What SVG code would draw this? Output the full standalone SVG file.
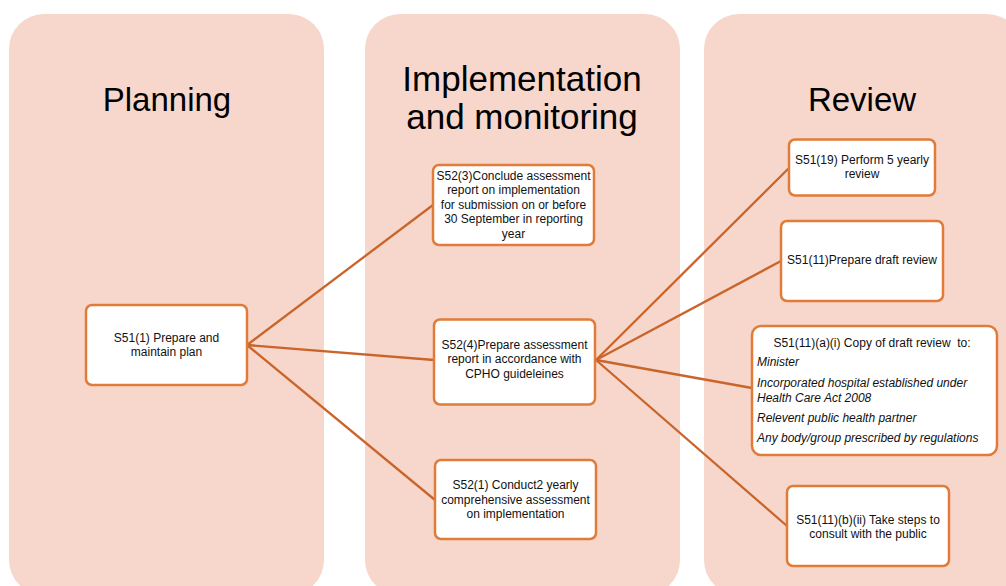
<svg xmlns="http://www.w3.org/2000/svg" width="1006" height="586" viewBox="0 0 1006 586">
<style>
.panel{fill:#F7D7CC;}
.title{font-family:"Liberation Sans",Arial,sans-serif;fill:#000;text-anchor:middle;}
.box{fill:#fff;stroke:#E07B39;stroke-width:2.5;}
.t{font-family:"Liberation Sans",Arial,sans-serif;font-size:12px;fill:#111;text-anchor:middle;}
.it{font-family:"Liberation Sans",Arial,sans-serif;font-size:12px;fill:#111;font-style:italic;}
.conn line{stroke:#C9652A;stroke-width:2.3;}
</style>
<rect width="1006" height="586" fill="#fff"/>
<g id="panel-planning">
<rect class="panel" x="9" y="14" width="315" height="581" rx="35"/>
<text class="title" x="167" y="111" font-size="33">Planning</text>
</g>
<g id="panel-implementation">
<rect class="panel" x="365" y="14" width="315" height="581" rx="35"/>
<text class="title" x="522" y="90.5" font-size="35">Implementation</text>
<text class="title" x="522" y="128.5" font-size="35">and monitoring</text>
</g>
<g id="panel-review">
<rect class="panel" x="704" y="14" width="318" height="581" rx="35"/>
<text class="title" x="862" y="111" font-size="33">Review</text>
</g>
<g id="connectors" class="conn">
<line x1="247" y1="345" x2="433" y2="205"/>
<line x1="247" y1="345" x2="434" y2="360"/>
<line x1="247" y1="345" x2="435" y2="500"/>
<line x1="596" y1="360" x2="789" y2="168"/>
<line x1="596" y1="360" x2="781" y2="261"/>
<line x1="596" y1="360" x2="752" y2="388"/>
<line x1="596" y1="360" x2="787" y2="526"/>
</g>
<g id="n1">
<rect class="box" x="86" y="305" width="161" height="80" rx="6"/>
<text class="t" x="166.5" y="342">S51(1) Prepare and</text>
<text class="t" x="166.5" y="356">maintain plan</text>
</g>
<g id="n2">
<rect class="box" x="433" y="165" width="161" height="80" rx="6"/>
<text class="t" x="513.5" y="180">S52(3)Conclude assessment</text>
<text class="t" x="513.5" y="194">report on implementation</text>
<text class="t" x="513.5" y="208.5">for submission on or before</text>
<text class="t" x="513.5" y="223">30 September in reporting</text>
<text class="t" x="513.5" y="237.5">year</text>
</g>
<g id="n3">
<rect class="box" x="434" y="319.5" width="161" height="85" rx="6"/>
<text class="t" x="514.5" y="348.5">S52(4)Prepare assessment</text>
<text class="t" x="514.5" y="363">report in accordance with</text>
<text class="t" x="514.5" y="377.5">CPHO guideleines</text>
</g>
<g id="n4">
<rect class="box" x="435" y="460" width="161" height="79" rx="6"/>
<text class="t" x="515.5" y="489">S52(1) Conduct2 yearly</text>
<text class="t" x="515.5" y="503.5">comprehensive assessment</text>
<text class="t" x="515.5" y="517.5">on implementation</text>
</g>
<g id="n5">
<rect class="box" x="789" y="139.5" width="146" height="56" rx="6"/>
<text class="t" x="862" y="164">S51(19) Perform 5 yearly</text>
<text class="t" x="862" y="178">review</text>
</g>
<g id="n6">
<rect class="box" x="781" y="221" width="162" height="80" rx="6"/>
<text class="t" x="862" y="264">S51(11)Prepare draft review</text>
</g>
<g id="n7">
<rect class="box" x="752" y="326" width="245" height="129" rx="9"/>
<text class="t" x="872" y="347" xml:space="preserve">S51(11)(a)(i) Copy of draft review  to:</text>
<text class="it" x="757" y="366">Minister</text>
<text class="it" x="757" y="387">Incorporated hospital established under</text>
<text class="it" x="757" y="401.5">Health Care Act 2008</text>
<text class="it" x="757" y="422">Relevent public health partner</text>
<text class="it" x="757" y="441.5">Any body/group prescribed by regulations</text>
</g>
<g id="n8">
<rect class="box" x="787" y="486" width="162" height="80" rx="6"/>
<text class="t" x="868" y="523.5">S51(11)(b)(ii) Take steps to</text>
<text class="t" x="868" y="537.5">consult with the public</text>
</g>
</svg>
